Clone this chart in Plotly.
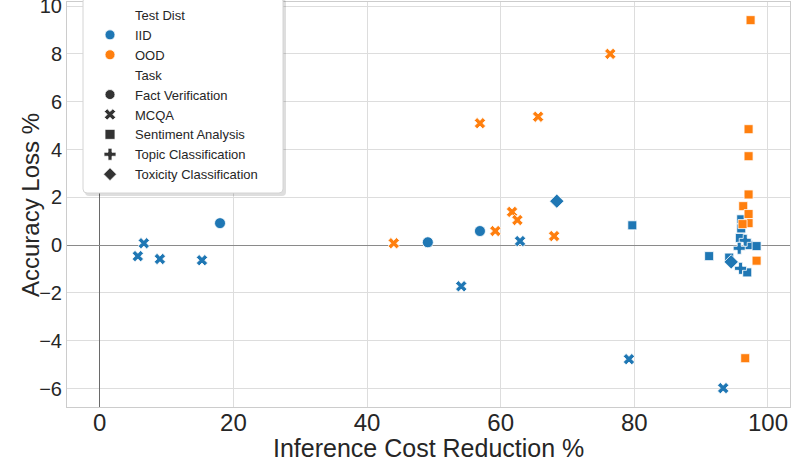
import plotly.graph_objects as go

BLUE = "#1f77b4"
ORANGE = "#ff7f0e"

# IID series
iid_fact_x = [18.0, 49.1, 56.9]
iid_fact_y = [0.92, 0.12, 0.59]
iid_mcqa_x = [5.7, 6.6, 9.0, 15.3, 54.1, 62.9, 79.2, 93.3]
iid_mcqa_y = [-0.46, 0.08, -0.58, -0.63, -1.72, 0.17, -4.77, -5.98]
iid_sent_x = [79.7, 91.2, 94.2, 96.0, 96.0, 95.8, 97.1, 98.3, 96.9]
iid_sent_y = [0.83, -0.46, -0.52, 1.08, 0.70, 0.30, 0.0, -0.04, -1.14]
iid_topic_x = [96.6, 95.7, 95.9]
iid_topic_y = [0.20, -0.13, -0.97]
iid_tox_x = [68.4, 94.5]
iid_tox_y = [1.84, -0.70]

# OOD series
ood_mcqa_x = [44.0, 56.9, 59.2, 61.7, 62.5, 65.6, 68.0, 76.4]
ood_mcqa_y = [0.08, 5.10, 0.59, 1.39, 1.05, 5.37, 0.38, 8.00]
ood_sent_x = [97.4, 97.1, 97.1, 97.1, 96.3, 97.1, 97.1, 96.2, 96.6, 98.3]
ood_sent_y = [9.41, 4.85, 3.72, 2.12, 1.63, 1.30, 0.92, 0.88, -4.73, -0.65]

x_ticks = [0, 20, 40, 60, 80, 100]
y_ticks = [-6, -4, -2, 0, 2, 4, 6, 8, 10]

FONT = "Liberation Sans, Arial, sans-serif"
W, H = 797, 465
ML, MR, MT, MB = 67, 7, 2, 58
PW, PH = W - ML - MR, H - MT - MB

fig = go.Figure()

def add(x, y, color, symbol, size):
    fig.add_trace(go.Scatter(
        x=x, y=y, mode="markers", showlegend=False, hoverinfo="skip",
        marker=dict(color=color, symbol=symbol, size=size,
                    line=dict(color="white", width=0.8)),
    ))

add(iid_fact_x, iid_fact_y, BLUE, "circle", 11)
add(iid_mcqa_x, iid_mcqa_y, BLUE, "x", 10)
add(iid_sent_x, iid_sent_y, BLUE, "square", 9)
add(iid_topic_x, iid_topic_y, BLUE, "cross", 10)
add(iid_tox_x, iid_tox_y, BLUE, "diamond", 11)
add(ood_mcqa_x, ood_mcqa_y, ORANGE, "x", 10)
add(ood_sent_x, ood_sent_y, ORANGE, "square", 9)

# legend entries
legend_items = [
    ("Test Dist", None, None),
    ("IID", BLUE, "circle"),
    ("OOD", ORANGE, "circle"),
    ("Task", None, None),
    ("Fact Verification", "#333333", "circle"),
    ("MCQA", "#333333", "x"),
    ("Sentiment Analysis", "#333333", "square"),
    ("Topic Classification", "#333333", "cross"),
    ("Toxicity Classification", "#333333", "diamond"),
]
for name, color, sym in legend_items:
    if color is None:
        marker = dict(color="rgba(0,0,0,0)", size=1)
    else:
        marker = dict(color=color, symbol=sym, size=10,
                      line=dict(color="white", width=0.8))
    fig.add_trace(go.Scatter(x=[None], y=[None], mode="markers",
                             name=name, marker=marker, showlegend=True))

# legend frame (rounded box with soft shadow), in pixel -> paper coords
def px2paper(px, py):
    return (px - ML) / PW, (H - MB - py) / PH

def rounded(x0p, y0p, x1p, y1p, r=4):
    ax0, ay0 = px2paper(x0p, y0p)
    ax1, ay1 = px2paper(x1p, y1p)
    rx, ry = r / PW, r / PH
    return (f"M {ax0+rx},{ay0} L {ax1-rx},{ay0} Q {ax1},{ay0} {ax1},{ay0-ry} "
            f"L {ax1},{ay1+ry} Q {ax1},{ay1} {ax1-rx},{ay1} "
            f"L {ax0+rx},{ay1} Q {ax0},{ay1} {ax0},{ay1+ry} "
            f"L {ax0},{ay0-ry} Q {ax0},{ay0} {ax0+rx},{ay0} Z")

shapes = [
    dict(type="path", xref="paper", yref="paper", layer="above",
         path=rounded(85, -1, 286, 196), fillcolor="rgba(0,0,0,0.13)",
         line=dict(width=0)),
    dict(type="path", xref="paper", yref="paper", layer="above",
         path=rounded(83, -3, 283, 193), fillcolor="white",
         line=dict(color="#d4d4d4", width=1)),
]

fig.update_layout(
    width=W, height=H,
    margin=dict(l=ML, r=MR, t=MT, b=MB, autoexpand=False),
    paper_bgcolor="white", plot_bgcolor="white",
    font=dict(family=FONT, color="#262626"),
    shapes=shapes,
    legend=dict(
        xref="container", yref="container",
        x=85 / W, y=1.006, xanchor="left", yanchor="top",
        bgcolor="rgba(0,0,0,0)", borderwidth=0,
        font=dict(size=13, family=FONT, color="#262626"),
        tracegroupgap=0, itemwidth=40,
    ),
    xaxis=dict(
        range=[-4.9, 103.3], tickvals=x_ticks,
        showgrid=True, gridcolor="#dddddd", gridwidth=1,
        zeroline=True, zerolinecolor="#6a6a6a", zerolinewidth=1,
        showline=True, linecolor="#cccccc", linewidth=1, mirror=True,
        ticks="", tickfont=dict(size=24), ticklabeloverflow="allow",
        ticklabelstandoff=-6,
    ),
    yaxis=dict(
        range=[-6.77, 10.17], tickvals=y_ticks,
        showgrid=True, gridcolor="#dddddd", gridwidth=1,
        zeroline=True, zerolinecolor="#8a8a8a", zerolinewidth=1,
        showline=True, linecolor="#cccccc", linewidth=1, mirror=True,
        ticks="", tickfont=dict(size=20), ticklabeloverflow="allow",
    ),
    annotations=[
        dict(text="Inference Cost Reduction %", xref="paper", yref="paper",
             x=0.5, y=-(448 - (H - MB)) / PH, xanchor="center", yanchor="middle",
             showarrow=False, font=dict(size=25, family=FONT, color="#262626")),
        dict(text="Accuracy Loss %", xref="paper", yref="paper",
             x=(30 - ML) / PW, y=(H - MB - 205) / PH, xanchor="center", yanchor="middle",
             textangle=-90, showarrow=False,
             font=dict(size=24, family=FONT, color="#262626")),
    ],
)

fig.write_html("out.html",
               config={"displayModeBar": False},
               post_script="document.body.style.margin='0';document.body.style.overflow='hidden';")
